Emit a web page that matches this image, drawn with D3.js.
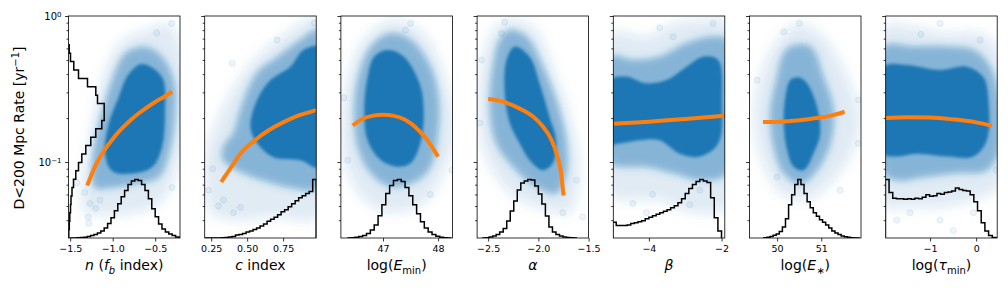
<!DOCTYPE html>
<html>
<head>
<meta charset="utf-8">
<script src="https://cdn.jsdelivr.net/npm/d3@7"></script>
<style>
    body { margin: 0; background: #fff; }
    svg { display: block; font-family: "DejaVu Sans", sans-serif; }
</style>
</head>
<body>
<svg id="grafico" width="1008" height="288"></svg>
<script>

// ---- shared axis values ----
const yDomain = [0.0302, 1];
const yMajor = [0.1, 1];
const yMinor = [0.04, 0.05, 0.06, 0.07, 0.08, 0.09, 0.2, 0.3, 0.4, 0.5, 0.6, 0.7, 0.8, 0.9];

const xDomains = [[-1.52, -0.208], [0.205, 0.98], [46.235, 48.26], [-2.61, -1.5], [-4.98, -1.91], [49.375, 51.9], [-1.963, 0.457]];
const xTicks = [[-1.5, -1.0, -0.5], [0.25, 0.5, 0.75], [47, 48], [-2.5, -2.0, -1.5], [-4, -2], [50, 51], [-1, 0]];
const xTickFormats = [".1f", ".2f", "d", ".1f", "d", "d", "d"];

const xLabelParts = [
    [["n", "i"], [" (", ""], ["f", "i"], ["b", "is"], [" index)", ""]],
    [["c", "i"], [" index", ""]],
    [["log(", ""], ["E", "i"], ["min", "s"], [")", ""]],
    [["α", "i"]],
    [["β", "i"]],
    [["log(", ""], ["E", "i"], ["∗", "s"], [")", ""]],
    [["log(", ""], ["τ", "i"], ["min", "s"], [")", ""]]
];

// ---- panel 1: n ----
const fitX_n = [-1.30, -1.20, -1.10, -1.00, -0.90, -0.80, -0.70, -0.60, -0.50, -0.40, -0.30];
const fitY_n = [0.069, 0.0953, 0.120, 0.144, 0.168, 0.191, 0.214, 0.236, 0.258, 0.279, 0.303];
const histRange_n = [-1.50, -0.18];
const hist_n = [0, 0, 0.2, 0.4, 0.8, 1.5, 2.5, 3.5, 5, 7, 10, 14.5, 20, 27, 34, 41, 47, 53, 56.5, 58, 57, 53, 47, 39, 29, 21, 14, 9, 6, 4, 2.5, 1, 0.3];
const rateHistRange = [0.0302, 0.635];
const rateHist = [0.3, 0.8, 1.3, 2, 2.5, 3.5, 5, 7.3, 10, 13.3, 17.3, 22.3, 27.3, 33.3, 35.7, 35.7, 29, 27.3, 19, 10, 5.3, 2, 0.7];
const cloudCore_n = [[-0.655, 0.47], [-0.42, 0.382], [-0.385, 0.213], [-0.42, 0.127], [-0.538, 0.092], [-0.812, 0.083], [-1.008, 0.087], [-1.091, 0.114], [-1.047, 0.182], [-0.929, 0.279], [-0.812, 0.40]];
const cloudMid_n = [[-0.855, 0.55], [-0.62, 0.613], [-0.42, 0.524], [-0.282, 0.36], [-0.267, 0.213], [-0.341, 0.113], [-0.459, 0.079], [-0.738, 0.071], [-1.008, 0.067], [-1.208, 0.067], [-1.244, 0.087], [-1.205, 0.14], [-1.126, 0.213], [-1.008, 0.36]];
const cloudOuter_n = [[-0.62, 0.79], [-0.341, 0.88], [-0.15, 0.5], [-0.15, 0.153], [-0.42, 0.054], [-0.812, 0.044], [-1.208, 0.044], [-1.326, 0.044], [-1.361, 0.074], [-1.282, 0.127], [-1.126, 0.36], [-0.891, 0.68]];
const outliers_n = [[-0.306, 0.89], [-0.482, 0.765], [-1.287, 0.042], [-1.267, 0.052], [-1.424, 0.072], [-0.302, 0.067], [-1.282, 0.038], [-1.15, 0.055], [-1.33, 0.062], [-1.20, 0.048]];

// ---- panel 2: c ----
const fitX_c = [0.32, 0.35, 0.40, 0.45, 0.55, 0.65, 0.75, 0.85, 0.98];
const fitY_c = [0.073, 0.081, 0.0955, 0.113, 0.140, 0.165, 0.187, 0.207, 0.227];
const histRange_c = [0.20, 0.98];
const hist_c = [0, 0, 0, 0, 0, 0.3, 0.6, 1, 1.5, 3, 3.5, 4.5, 6, 7, 8.5, 10, 12, 14, 16.5, 18.5, 20.5, 23, 26, 28, 31, 34, 37, 40, 42, 44, 46, 58];
const cloudCore_c = [[0.80, 0.45], [0.891, 0.585], [1.0, 0.613], [1.0, 0.092], [0.87, 0.103], [0.683, 0.108], [0.569, 0.135], [0.523, 0.174], [0.569, 0.266], [0.662, 0.364]];
const cloudMid_c = [[0.405, 0.158], [0.453, 0.227], [0.569, 0.407], [0.708, 0.52], [0.87, 0.685], [1.0, 0.80], [1.0, 0.067], [0.80, 0.067], [0.613, 0.075], [0.474, 0.084], [0.335, 0.103], [0.335, 0.127]];
const cloudOuter_c = [[0.21, 0.067], [0.21, 0.115], [0.384, 0.297], [0.569, 0.525], [0.80, 0.80], [1.0, 0.99], [1.0, 0.042], [0.683, 0.042], [0.405, 0.040], [0.245, 0.045]];
const outliers_c = [[0.231, 0.064], [0.335, 0.055], [0.405, 0.045], [0.453, 0.049], [0.396, 0.475], [0.708, 0.685], [0.967, 0.896], [0.26, 0.09], [0.30, 0.050]];

// ---- panel 3: log(E_min) ----
const fitX_emin = [46.45, 46.6, 46.8, 47.0, 47.2, 47.4, 47.6, 47.8, 48.0];
const fitY_emin = [0.178, 0.195, 0.207, 0.211, 0.207, 0.195, 0.172, 0.142, 0.109];
const histRange_emin = [46.35, 48.24];
const hist_emin = [0, 0.3, 0.7, 1.5, 2.5, 4.5, 8, 13, 22, 33, 44, 52, 57, 58, 56, 50, 42, 33, 24, 16, 10, 6, 3.5, 1.8, 0.8, 0.3, 0];
const cloudCore_emin = [[47.08, 0.585], [47.38, 0.526], [47.68, 0.33], [47.74, 0.204], [47.68, 0.135], [47.50, 0.098], [47.26, 0.093], [46.96, 0.103], [46.72, 0.141], [46.66, 0.227], [46.72, 0.38], [46.84, 0.525]];
const cloudMid_emin = [[47.14, 0.76], [47.50, 0.685], [47.86, 0.45], [48.01, 0.266], [47.98, 0.141], [47.86, 0.093], [47.62, 0.075], [47.14, 0.068], [46.78, 0.084], [46.54, 0.128], [46.48, 0.216], [46.54, 0.364], [46.78, 0.617]];
const cloudOuter_emin = [[47.26, 0.94], [47.74, 0.76], [48.16, 0.346], [48.31, 0.158], [48.10, 0.084], [47.74, 0.052], [47.14, 0.045], [46.66, 0.055], [46.29, 0.103], [46.29, 0.266], [46.54, 0.585], [46.90, 0.845]];
const outliers_emin = [[47.50, 0.89], [46.29, 0.275], [48.25, 0.088], [46.36, 0.103], [47.41, 0.80], [47.86, 0.06]];

// ---- panel 4: alpha ----
const fitX_alpha = [-2.5, -2.35, -2.19, -2.05, -1.955, -1.87, -1.81, -1.775, -1.75];
const fitY_alpha = [0.27, 0.259, 0.233, 0.204, 0.175, 0.142, 0.109, 0.085, 0.059];
const histRange_alpha = [-2.56, -1.615];
const hist_alpha = [0, 0.3, 1, 2, 3.5, 6, 9.5, 17, 27, 37, 48, 55, 57, 58.5, 58, 52, 44, 34, 22, 11, 6, 3.5, 2, 1, 0.5, 0.2, 0];
const cloudCore_alpha = [[-2.236, 0.617], [-2.087, 0.526], [-1.988, 0.346], [-1.889, 0.204], [-1.823, 0.141], [-1.856, 0.098], [-1.955, 0.088], [-2.087, 0.103], [-2.186, 0.134], [-2.285, 0.185], [-2.335, 0.296], [-2.318, 0.50]];
const cloudMid_alpha = [[-2.285, 0.80], [-2.12, 0.72], [-1.955, 0.45], [-1.823, 0.266], [-1.724, 0.141], [-1.724, 0.084], [-1.823, 0.061], [-2.021, 0.068], [-2.219, 0.088], [-2.417, 0.134], [-2.483, 0.24], [-2.45, 0.45], [-2.384, 0.685]];
const cloudOuter_alpha = [[-2.318, 0.94], [-2.054, 0.845], [-1.823, 0.384], [-1.658, 0.175], [-1.592, 0.084], [-1.691, 0.045], [-1.922, 0.047], [-2.285, 0.061], [-2.55, 0.121], [-2.6, 0.266], [-2.55, 0.526], [-2.45, 0.80]];
const outliers_alpha = [[-2.335, 0.91], [-2.367, 0.76], [-1.56, 0.042], [-1.757, 0.045], [-2.565, 0.50], [-2.582, 0.185], [-1.62, 0.075]];

// ---- panel 5: beta ----
const fitX_beta = [-5.0, -4.5, -4.0, -3.5, -3.0, -2.5, -1.9];
const fitY_beta = [0.183, 0.186, 0.189, 0.193, 0.197, 0.202, 0.208];
const histRange_beta = [-5.0, -2.0];
const hist_beta = [15.5, 12.5, 12.5, 12.5, 13, 14.5, 15, 16, 17, 19, 20.5, 22, 23.5, 25, 26.5, 28, 30, 32, 35, 39, 44, 49, 53, 56, 58, 56.5, 55, 40, 20, 7];
const cloudCore_beta = [[-5.05, 0.364], [-4.625, 0.384], [-4.072, 0.346], [-3.519, 0.364], [-2.965, 0.45], [-2.506, 0.526], [-2.091, 0.50], [-1.989, 0.266], [-2.091, 0.134], [-2.598, 0.109], [-3.151, 0.114], [-3.704, 0.141], [-4.257, 0.141], [-4.81, 0.134], [-5.05, 0.134]];
const cloudMid_beta = [[-5.05, 0.526], [-4.443, 0.50], [-3.704, 0.526], [-2.965, 0.65], [-2.23, 0.72], [-1.85, 0.685], [-1.85, 0.084], [-2.506, 0.075], [-3.336, 0.084], [-4.072, 0.093], [-4.625, 0.093], [-5.05, 0.098]];
const cloudOuter_beta = [[-5.05, 0.76], [-4.072, 0.72], [-3.336, 0.89], [-2.598, 0.94], [-1.85, 0.94], [-1.85, 0.049], [-2.783, 0.045], [-3.704, 0.055], [-4.625, 0.055], [-5.05, 0.058]];
const outliers_beta = [[-3.704, 0.83], [-3.336, 0.72], [-2.23, 0.89], [-4.443, 0.052], [-4.072, 0.045], [-2.874, 0.051], [-2.598, 0.064], [-3.9, 0.06]];

// ---- panel 6: log(E_*) ----
const fitX_estar = [49.68, 50.0, 50.3, 50.6, 50.9, 51.2, 51.53];
const fitY_estar = [0.188, 0.188, 0.191, 0.195, 0.200, 0.207, 0.221];
const histRange_estar = [49.7, 51.87];
const hist_estar = [0.2, 0.7, 1.5, 2.7, 4, 6.5, 11, 19, 33, 43, 53, 58, 53, 44, 36, 30, 25, 21.5, 18, 15.5, 13, 10, 7, 5, 3.5, 2, 1.3, 0.7, 0.3, 0.1, 0];
const cloudCore_estar = [[50.488, 0.38], [50.677, 0.346], [50.903, 0.24], [50.977, 0.157], [50.826, 0.115], [50.60, 0.088], [50.375, 0.093], [50.226, 0.121], [50.149, 0.184], [50.187, 0.28], [50.30, 0.364]];
const cloudMid_estar = [[50.30, 0.617], [50.752, 0.617], [51.052, 0.38], [51.278, 0.227], [51.203, 0.134], [50.903, 0.088], [50.526, 0.071], [50.149, 0.084], [49.923, 0.128], [49.849, 0.216], [50.0, 0.38], [50.149, 0.555]];
const cloudOuter_estar = [[50.451, 0.89], [51.052, 0.72], [51.655, 0.346], [51.88, 0.194], [51.655, 0.109], [51.129, 0.068], [50.677, 0.055], [50.074, 0.061], [49.623, 0.109], [49.472, 0.227], [49.698, 0.45], [50.074, 0.72]];
const outliers_estar = [[50.503, 0.89], [50.149, 0.78], [51.429, 0.064], [49.549, 0.364], [51.842, 0.266], [50.0, 0.079], [51.84, 0.134]];

// ---- panel 7: log(tau_min) ----
const fitX_tau = [-1.96, -1.5, -1.0, -0.5, 0.0, 0.34];
const fitY_tau = [0.200, 0.203, 0.202, 0.196, 0.187, 0.177];
const histRange_tau = [-1.97, 0.43];
const hist_tau = [58, 45, 39.5, 39, 39, 38.5, 39, 38.5, 39.5, 39, 40.5, 43, 41.5, 42, 44, 43.5, 45, 45.5, 46.5, 49.5, 48, 47, 46.5, 43, 36, 27, 15, 7, 2.5, 0.5];
const cloudCore_tau = [[-2.0, 0.45], [-1.507, 0.462], [-0.783, 0.427], [-0.202, 0.45], [0.159, 0.38], [0.267, 0.266], [0.233, 0.141], [-0.059, 0.109], [-0.637, 0.109], [-1.289, 0.114], [-1.724, 0.109], [-2.0, 0.114]];
const cloudMid_tau = [[-2.0, 0.617], [-1.363, 0.617], [-0.637, 0.617], [-0.059, 0.585], [0.304, 0.45], [0.5, 0.266], [0.5, 0.121], [0.233, 0.088], [-0.42, 0.084], [-1.146, 0.079], [-1.724, 0.075], [-2.0, 0.084]];
const cloudOuter_tau = [[-2.0, 0.845], [-1.363, 0.845], [-0.637, 0.76], [0.087, 0.76], [0.5, 0.585], [0.5, 0.068], [-0.059, 0.055], [-0.783, 0.049], [-1.507, 0.049], [-2.0, 0.049]];
const outliers_tau = [[-0.783, 0.89], [0.087, 0.685], [-0.783, 0.040], [-0.493, 0.034], [-0.059, 0.045], [-1.435, 0.045], [-1.724, 0.040], [0.435, 0.088], [-1.2, 0.75]];

const paneles = [
    { fitX: fitX_n, fitY: fitY_n, hist: hist_n, histRange: histRange_n, nubes: [cloudOuter_n, cloudMid_n, cloudCore_n], sueltos: outliers_n },
    { fitX: fitX_c, fitY: fitY_c, hist: hist_c, histRange: histRange_c, nubes: [cloudOuter_c, cloudMid_c, cloudCore_c], sueltos: outliers_c },
    { fitX: fitX_emin, fitY: fitY_emin, hist: hist_emin, histRange: histRange_emin, nubes: [cloudOuter_emin, cloudMid_emin, cloudCore_emin], sueltos: outliers_emin },
    { fitX: fitX_alpha, fitY: fitY_alpha, hist: hist_alpha, histRange: histRange_alpha, nubes: [cloudOuter_alpha, cloudMid_alpha, cloudCore_alpha], sueltos: outliers_alpha },
    { fitX: fitX_beta, fitY: fitY_beta, hist: hist_beta, histRange: histRange_beta, nubes: [cloudOuter_beta, cloudMid_beta, cloudCore_beta], sueltos: outliers_beta },
    { fitX: fitX_estar, fitY: fitY_estar, hist: hist_estar, histRange: histRange_estar, nubes: [cloudOuter_estar, cloudMid_estar, cloudCore_estar], sueltos: outliers_estar },
    { fitX: fitX_tau, fitY: fitY_tau, hist: hist_tau, histRange: histRange_tau, nubes: [cloudOuter_tau, cloudMid_tau, cloudCore_tau], sueltos: outliers_tau }
];

// ---- layout ----
const svg = d3.select("#grafico");
const top_ = 16, bottom = 238, axW = 111.5, left0 = 68.5, step = 136.2;
const histTall = 58.5, rateHistWide = 35.7;
const azul = "#1f77b4", naranja = "#ff7f0e";

const y = d3.scaleLog().domain(yDomain).range([bottom, top_]);

const defs = svg.append("defs");
[["blurOuter", 6], ["blurMid", 4.5], ["blurMid2", 2], ["blurCore", 1.5]].forEach(([id, s]) => {
    defs.append("filter").attr("id", id)
        .attr("x", "-30%").attr("y", "-30%").attr("width", "160%").attr("height", "160%")
        .append("feGaussianBlur").attr("stdDeviation", s);
});
// outer halo, wide soft middle, tighter middle, solid core
const capas = [[0, "blurOuter", 0.15], [1, "blurMid", 0.32], [1, "blurMid2", 0.22], [2, "blurCore", 1]];

function escalones(edges, counts) {
    const pts = [[edges[0], 0]];
    counts.forEach((c, i) => {
        pts.push([edges[i], c]);
        pts.push([edges[i + 1], c]);
    });
    pts.push([edges[edges.length - 1], 0]);
    return pts;
}

paneles.forEach((p, i) => {

    const left = left0 + i * step;
    const x = d3.scaleLinear().domain(xDomains[i]).range([left, left + axW]);
    const g = svg.append("g");

    defs.append("clipPath").attr("id", "clip" + i)
        .append("rect")
        .attr("x", left).attr("y", top_)
        .attr("width", axW).attr("height", bottom - top_);

    const dentro = g.append("g").attr("clip-path", `url(#clip${i})`);

    // scatter cloud
    const nube = d3.line()
        .x(d => x(d[0]))
        .y(d => y(d[1]))
        .curve(d3.curveCatmullRomClosed.alpha(0.5));

    capas.forEach(([k, filtro, op]) => {
        dentro.append("path")
            .attr("d", nube(p.nubes[k]))
            .attr("fill", azul)
            .attr("fill-opacity", op)
            .attr("filter", `url(#${filtro})`);
    });

    dentro.selectAll("circle.suelto")
        .data(p.sueltos)
        .enter()
        .append("circle")
        .attr("class", "suelto")
        .attr("cx", d => x(d[0]))
        .attr("cy", d => y(d[1]))
        .attr("r", 3)
        .attr("fill", azul)
        .attr("fill-opacity", 0.07)
        .attr("stroke", azul)
        .attr("stroke-opacity", 0.1);

    // histogram along x
    const n = p.hist.length;
    const edges = d3.range(n + 1).map(k => p.histRange[0] + k * (p.histRange[1] - p.histRange[0]) / n);
    const hy = d3.scaleLinear().domain([0, d3.max(p.hist)]).range([bottom, bottom - histTall]);

    dentro.append("path")
        .attr("d", d3.line().x(d => x(d[0])).y(d => hy(d[1]))(escalones(edges, p.hist)))
        .attr("fill", "none")
        .attr("stroke", "#000")
        .attr("stroke-width", 1.5);

    // histogram of rate, only in the first panel
    if (i === 0) {
        const m = rateHist.length;
        const rEdges = d3.range(m + 1).map(k => rateHistRange[0] * Math.pow(rateHistRange[1] / rateHistRange[0], k / m));
        const hx = d3.scaleLinear().domain([0, d3.max(rateHist)]).range([left, left + rateHistWide]);

        dentro.append("path")
            .attr("d", d3.line().x(d => hx(d[1])).y(d => y(d[0]))(escalones(rEdges, rateHist)))
            .attr("fill", "none")
            .attr("stroke", "#000")
            .attr("stroke-width", 1.5);
    }

    // fitted trend
    dentro.append("path")
        .attr("d", d3.line()
            .x(d => x(d[0]))
            .y(d => y(d[1]))
            .curve(d3.curveMonotoneX)(p.fitX.map((v, k) => [v, p.fitY[k]])))
        .attr("fill", "none")
        .attr("stroke", naranja)
        .attr("stroke-width", 4);

    // frame
    g.append("rect")
        .attr("x", left).attr("y", top_)
        .attr("width", axW).attr("height", bottom - top_)
        .attr("fill", "none")
        .attr("stroke", "#000")
        .attr("stroke-width", 0.8);

    // y axis
    const yMin = g.append("g")
        .attr("transform", `translate(${left},0)`)
        .call(d3.axisLeft(y).tickValues(yMinor).tickSize(2).tickFormat(""));
    yMin.select(".domain").remove();

    const yMaj = g.append("g")
        .attr("transform", `translate(${left},0)`)
        .call(d3.axisLeft(y).tickValues(yMajor).tickSize(3.5).tickPadding(3.5).tickFormat(""));
    yMaj.select(".domain").remove();

    g.selectAll(".tick line").attr("stroke-width", 0.8);

    if (i === 0) {
        yMaj.selectAll(".tick text")
            .attr("font-size", 10)
            .attr("font-family", "DejaVu Sans")
            .attr("fill", "#000")
            .each(function(d) {
                const t = d3.select(this).text(null);
                t.append("tspan").text("10");
                t.append("tspan").attr("dy", "-0.45em").attr("font-size", 7).text(d === 1 ? "0" : "−1");
            });
    }

    // x axis
    const xAx = g.append("g")
        .attr("transform", `translate(0,${bottom})`)
        .call(d3.axisBottom(x)
            .tickValues(xTicks[i])
            .tickSize(3.5)
            .tickPadding(3.5)
            .tickFormat(d3.format(xTickFormats[i])));
    xAx.select(".domain").remove();
    xAx.selectAll(".tick line").attr("stroke-width", 0.8);
    xAx.selectAll(".tick text")
        .attr("font-size", 9.5)
        .attr("font-family", "DejaVu Sans")
        .attr("fill", "#000");

    // x label
    const lab = g.append("text")
        .attr("x", left + axW / 2)
        .attr("y", 270)
        .attr("text-anchor", "middle")
        .attr("font-size", 14);
    let shift = 0;
    xLabelParts[i].forEach(([txt, st]) => {
        const sub = st.includes("s");
        const target = sub ? 3.5 : 0;
        const ts = lab.append("tspan").text(txt).attr("dy", target - shift);
        shift = target;
        if (st.includes("i")) ts.attr("font-style", "italic");
        if (sub) ts.attr("font-size", 10);
    });

});

// y label
const yLab = svg.append("text")
    .attr("transform", "rotate(-90)")
    .attr("x", -128)
    .attr("y", 23.5)
    .attr("text-anchor", "middle")
    .attr("font-size", 14);
yLab.append("tspan").text("D<200 Mpc Rate [yr");
yLab.append("tspan").attr("dy", -5).attr("font-size", 10).text("−1");
yLab.append("tspan").attr("dy", 5).text("]");

</script>
</body>
</html>
